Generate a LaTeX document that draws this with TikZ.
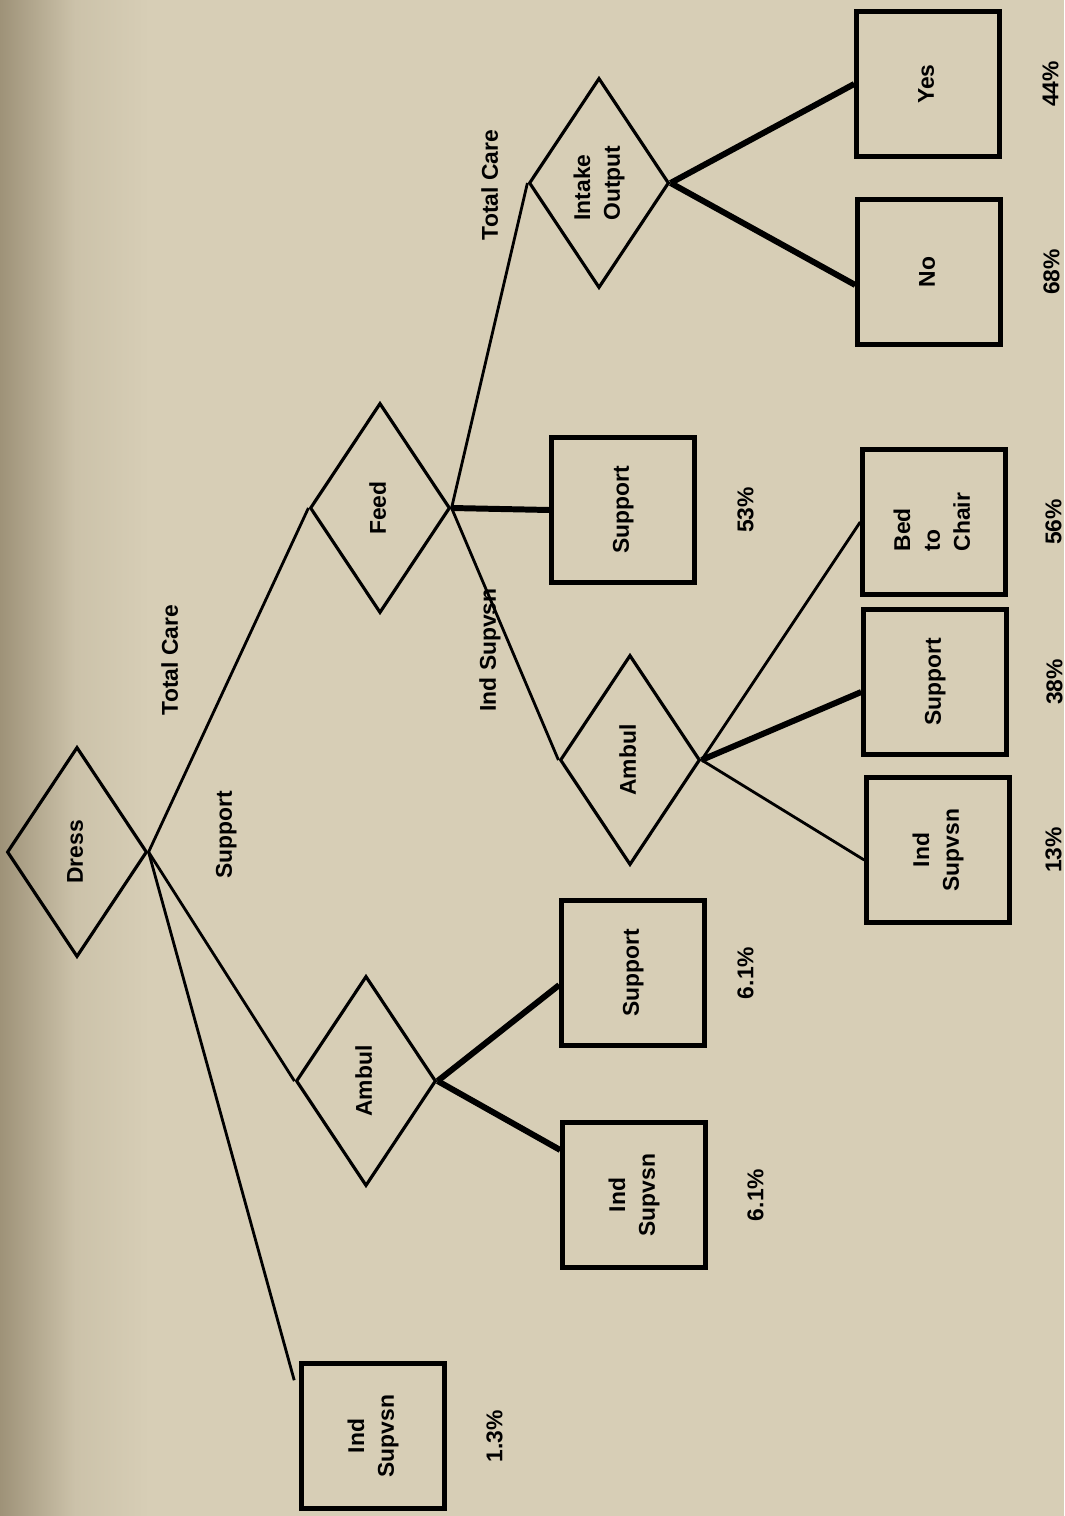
\documentclass[tikz,border=0pt]{standalone}
\usepackage{graphicx}
\usepackage{fontspec}
\setmainfont{Liberation Sans}
\usetikzlibrary{shapes.geometric,positioning}
\definecolor{paper}{RGB}{215,206,182}
\definecolor{paperedge}{RGB}{158,146,120}
\newcommand{\vtext}[2][c]{\rotatebox{90}{\begin{tabular}{@{}#1@{}}#2\end{tabular}}}
\tikzset{
	choice/.style={diamond, draw, line width=0.9pt, inner sep=0pt, minimum width=1.4cm, minimum height=2.1cm},
	result/.style={rectangle, draw, line width=1.3pt, inner sep=0pt, minimum width=1.43cm, minimum height=1.45cm},
	pct/.style={inner sep=0pt},
	thinlink/.style={line width=0.8pt},
	thicklink/.style={line width=1.7pt}
}
\begin{document}
\begin{tikzpicture}[font=\bfseries\fontsize{6.5}{8.5}\selectfont]
	\useasboundingbox (0,0) rectangle (10.64,-15.16);
	\fill[paper] (0,0) rectangle (10.64,-15.16);
	\shade[left color=paperedge, right color=paper, middle color=paper!80!paperedge] (0,0) rectangle (1.5,-15.16);

	\node[choice] (dress) at (0.77,-8.52) {\vtext{Dress}};
	\node[choice] (feed) at (3.80,-5.08) {\vtext{Feed}};
	\node[choice] (intake) at (5.99,-1.83) {\vtext[l]{Intake\\Output}};
	\node[choice] (ambulR) at (6.30,-7.60) {\vtext{Ambul}};
	\node[choice] (ambulL) at (3.66,-10.81) {\vtext{Ambul}};

	\node[result] (yes) at (9.28,-0.84) {\vtext{Yes}};
	\node[result] (no) at (9.29,-2.72) {\vtext{No}};
	\node[result] (bed) at (9.34,-5.22) {\vtext[l]{Bed\\to\\Chair}};
	\node[result] (supR) at (9.35,-6.82) {\vtext{Support}};
	\node[result] (indR) at (9.38,-8.50) {\vtext{Ind\\Supvsn}};
	\node[result] (supF) at (6.23,-5.10) {\vtext{Support}};
	\node[result] (supL) at (6.33,-9.73) {\vtext{Support}};
	\node[result] (indL) at (6.34,-11.95) {\vtext{Ind\\Supvsn}};
	\node[result] (indD) at (3.73,-14.36) {\vtext{Ind\\Supvsn}};

	\node[pct, right=0.35cm of yes] (pYes) {\vtext{44\%}};
	\node[pct, right=0.35cm of no] (pNo) {\vtext{68\%}};
	\node[pct, right=0.32cm of bed] (pBed) {\vtext{56\%}};
	\node[pct, right=0.32cm of supR] (pSupR) {\vtext{38\%}};
	\node[pct, right=0.28cm of indR] (pIndR) {\vtext{13\%}};
	\node[pct, right=0.35cm of supF] (pSupF) {\vtext{53\%}};
	\node[pct, right=0.25cm of supL] (pSupL) {\vtext{6.1\%}};
	\node[pct, right=0.34cm of indL] (pIndL) {\vtext{6.1\%}};
	\node[pct, right=0.34cm of indD] (pIndD) {\vtext{1.3\%}};

	\node (lTotalA) at (1.72,-6.60) {\vtext{Total Care}};
	\node (lSupport) at (2.26,-8.35) {\vtext{Support}};
	\node (lInd) at (4.90,-6.50) {\vtext{Ind Supvsn}};
	\node (lTotalB) at (4.92,-1.85) {\vtext{Total Care}};

	\draw[thinlink] (dress.east) -- (feed.west);
	\draw[thinlink] (dress.east) -- (ambulL.west);
	\draw[thinlink] (dress.east) -- ([xshift=-0.05cm,yshift=-0.19cm]indD.north west);
	\draw[thinlink] (feed.east) -- (intake.west);
	\draw[thicklink] (feed.east) -- (supF.west);
	\draw[thinlink] (feed.east) -- (ambulR.west);
	\draw[thicklink] (intake.east) -- (yes.west);
	\draw[thicklink] (intake.east) -- ([yshift=-0.13cm]no.west);
	\draw[thinlink] (ambulR.east) -- (bed.west);
	\draw[thicklink] (ambulR.east) -- ([yshift=-0.10cm]supR.west);
	\draw[thinlink] (ambulR.east) -- ([yshift=-0.10cm]indR.west);
	\draw[thicklink] (ambulL.east) -- ([yshift=-0.12cm]supL.west);
	\draw[thicklink] (ambulL.east) -- ([yshift=0.45cm]indL.west);
\end{tikzpicture}
\end{document}
